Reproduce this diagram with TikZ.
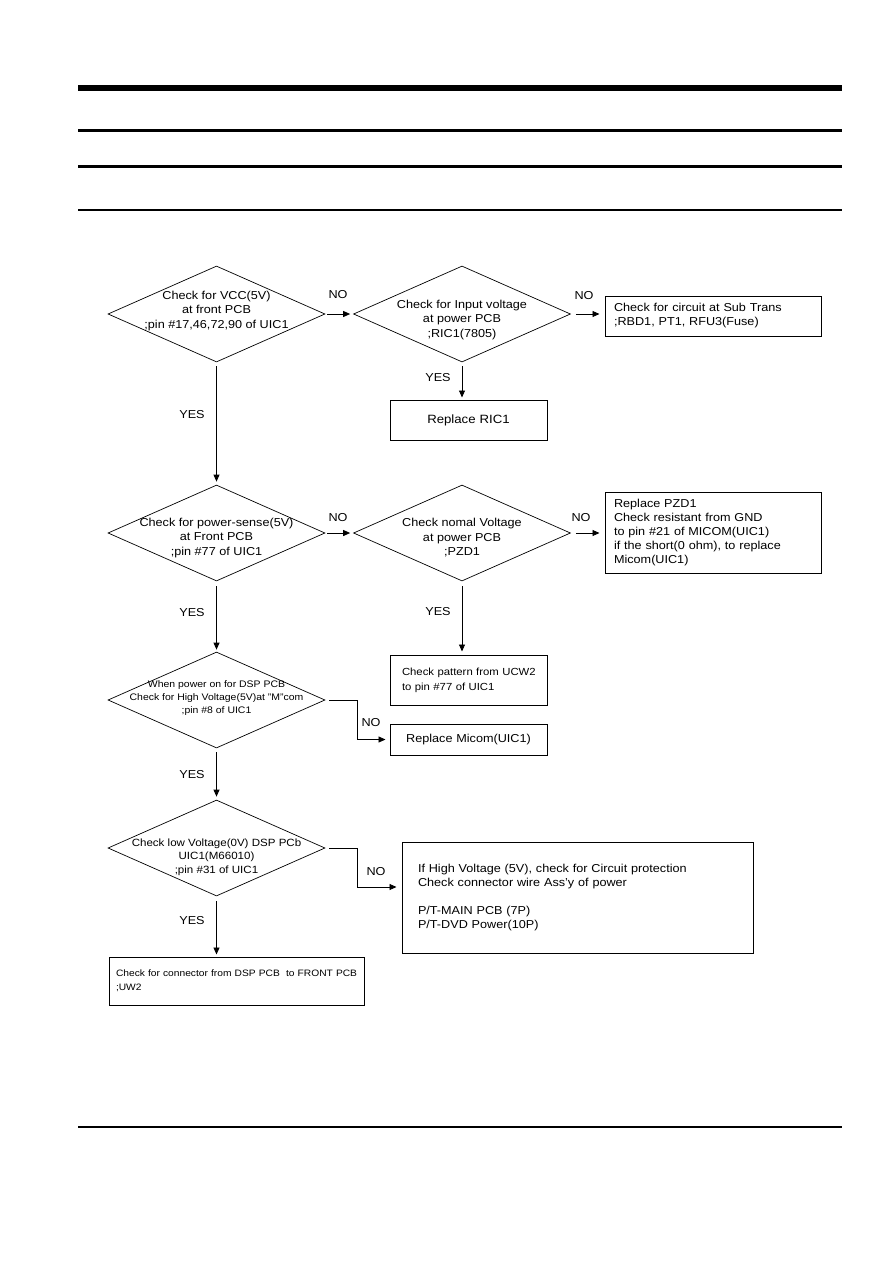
\documentclass[tikz,border=0pt]{standalone}
\usepackage{fontspec}
\setmainfont{Liberation Sans}[FakeStretch=1.1]
\usetikzlibrary{shapes.geometric,arrows.meta}
\begin{document}
\begin{tikzpicture}[x=1pt,y=-1pt,
  dia/.style={diamond, draw, line width=0.7pt, minimum width=217pt, minimum height=96pt, inner sep=0pt},
  dtext/.style={align=center, inner sep=0pt, font=\fontsize{11.5}{14.5}\selectfont},
  box/.style={draw, line width=1pt, inner sep=0pt, font=\fontsize{11.5}{14}\selectfont},
  conn/.style={line width=0.9pt, -{Triangle[length=7pt,width=6pt]}},
  lbl/.style={font=\fontsize{11.5}{14}\selectfont, inner sep=0pt},
  rule/.style={fill=black}]
\path[use as bounding box] (0,0) rectangle (894,1263);
% header / footer rules
\fill[rule] (78,85) rectangle (842,91);
\fill[rule] (78,129) rectangle (842,132);
\fill[rule] (78,165) rectangle (842,168);
\fill[rule] (78,209) rectangle (842,211);
\fill[rule] (78,1126) rectangle (842,1128);

% row 1
\node[dia] (d1) at (216.5,314) {};
\node[dtext] (d1t) at (216.5,311) {Check for VCC(5V)\\at front PCB\\;pin \#17,46,72,90 of UIC1};
\node[dia] (d2) at (462,314) {};
\node[dtext] (d2t) at (462,320) {Check for Input voltage\\at power PCB\\;RIC1(7805)};
\node[box, minimum width=216pt, minimum height=40pt, text width=198pt, inner xsep=9pt, align=left] (b1) at (713,316)
  {Check for circuit at Sub Trans\\;RBD1, PT1, RFU3(Fuse)};
\node[box, minimum width=157pt, minimum height=40pt, text width=145pt, inner xsep=6pt, align=center,
  font=\fontsize{12}{14}\selectfont] (b2) at (468.5,420)
  {Replace RIC1};

% row 2
\node[dia] (d3) at (216.5,533) {};
\node[dtext] (d3t) at (216.5,538) {Check for power-sense(5V)\\at Front PCB\\;pin \#77 of UIC1};
\node[dia] (d4) at (462,533) {};
\node[dtext] (d4t) at (462,538) {Check nomal Voltage\\at power PCB\\;PZD1};
\node[box, minimum width=216pt, minimum height=81pt, text width=198pt, inner xsep=9pt, align=left,
  font=\fontsize{11.5}{13.8}\selectfont] (b3) at (713,532.5)
  {Replace PZD1\\Check resistant from GND\\to pin \#21 of MICOM(UIC1)\\if the short(0 ohm), to replace\\Micom(UIC1)};
\node[box, minimum width=157pt, minimum height=50pt, text width=133pt, inner xsep=12pt, align=left,
  font=\fontsize{10.3}{15}\selectfont] (b4) at (468.5,680)
  {\mbox{Check pattern from UCW2}\\\mbox{to pin \#77 of UIC1}};

% row 3
\node[dia] (d5) at (216.5,700) {};
\node[dtext, font=\fontsize{9.5}{13}\selectfont] (d5t) at (216.5,698) {When power on for DSP PCB\\Check for High Voltage(5V)at "M"com\\;pin \#8 of UIC1};
\node[box, minimum width=157pt, minimum height=31pt, text width=145pt, inner xsep=6pt, align=center] (b5) at (468.5,739.5)
  {Replace Micom(UIC1)};

% row 4
\node[dia] (d6) at (216.5,848) {};
\node[dtext, font=\fontsize{10.5}{13.5}\selectfont] (d6t) at (216.5,857) {Check low Voltage(0V) DSP PCb\\UIC1(M66010)\\;pin \#31 of UIC1};
\node[box, minimum width=351pt, minimum height=111pt, text width=319pt, inner xsep=16pt, align=left,
  font=\fontsize{11.5}{14.5}\selectfont] (b6) at (577.5,897.5)
  {If High Voltage (5V), check for Circuit protection\\Check connector wire Ass'y of power\\[13pt]P/T-MAIN PCB (7P)\\P/T-DVD Power(10P)};
\node[box, minimum width=255pt, minimum height=48pt, text width=241pt, inner xsep=7pt, align=left,
  font=\fontsize{9.3}{14}\selectfont] (b7) at (236.5,981)
  {\mbox{Check for connector from DSP PCB\ \ to FRONT PCB}\\;UW2};

% connectors
\draw[conn, shorten <=2pt, shorten >=3pt] (d1.east) -- (d2.west);
\draw[conn, shorten <=5pt, shorten >=5pt] (d2.east) -- (d2.east -| b1.west);
\draw[conn, shorten <=4pt, shorten >=2pt] (d2.south) -- (d2.south |- b2.north);
\draw[conn, shorten <=4pt, shorten >=3pt] (d1.south) -- (d3.north);
\draw[conn, shorten <=2pt, shorten >=3pt] (d3.east) -- (d4.west);
\draw[conn, shorten <=5pt, shorten >=5pt] (d4.east) -- (d4.east -| b3.west);
\draw[conn, shorten <=5pt, shorten >=3pt] (d4.south) -- (d4.south |- b4.north);
\draw[conn, shorten <=5pt, shorten >=2pt] (d3.south) -- (d5.north);
\draw[conn, shorten <=4pt, shorten >=4pt] (d5.east) -- ++(32,0) |- (b5.west);
\draw[conn, shorten <=4pt, shorten >=3pt] (d5.south) -- (d6.north);
\draw[conn, shorten <=4pt, shorten >=5pt] (d6.east) -- ++(32,0) |- ([yshift=10.5pt]b6.west);
\draw[conn, shorten <=5pt, shorten >=2pt] (d6.south) -- (d6.south |- b7.north);

% labels
\node[lbl] (no1) at (338,295) {NO};
\node[lbl] (no2) at (584,296) {NO};
\node[lbl] (yes1) at (438,378) {YES};
\node[lbl] (yes2) at (192,415) {YES};
\node[lbl] (no3) at (338,518) {NO};
\node[lbl] (no4) at (581,518) {NO};
\node[lbl] (yes3) at (438,612) {YES};
\node[lbl] (yes4) at (192,613) {YES};
\node[lbl] (no5) at (371,723) {NO};
\node[lbl] (yes5) at (192,775) {YES};
\node[lbl] (no6) at (376,872) {NO};
\node[lbl] (yes6) at (192,921) {YES};
\end{tikzpicture}
\end{document}
